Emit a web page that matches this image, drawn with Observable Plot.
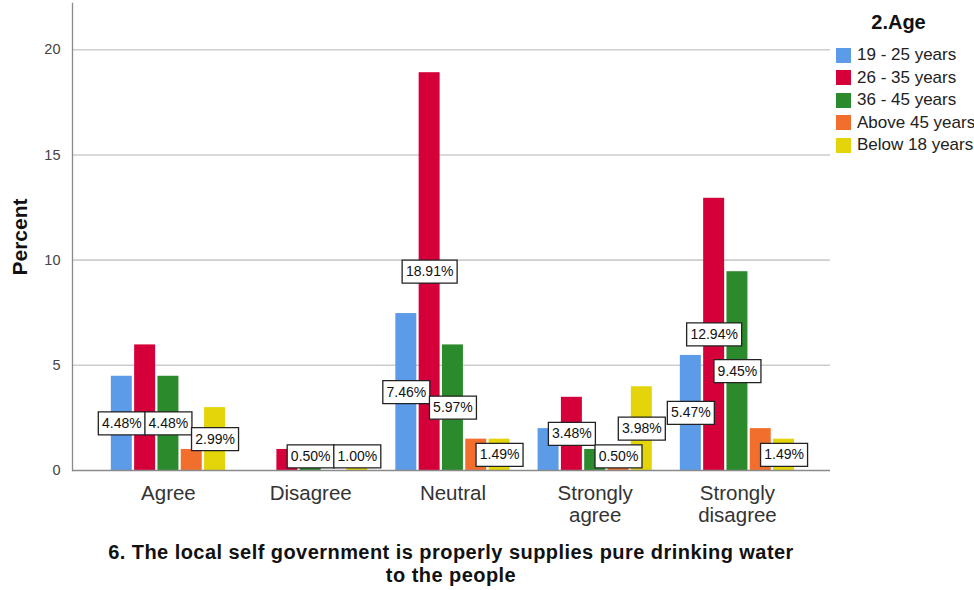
<!DOCTYPE html>
<html><head><meta charset="utf-8">
<script src="https://cdn.jsdelivr.net/npm/d3@7"></script>
<script src="https://cdn.jsdelivr.net/npm/@observablehq/plot@0.6"></script>
<style>
body{margin:0;background:#fff;font-family:Arial,"Liberation Sans",sans-serif}
#wrap{position:relative;width:974px;height:590px;overflow:hidden;background:#fff}
#chart{position:absolute;left:0;top:0}
#legend{position:absolute;left:836px;top:9px;width:125px;color:#222}
#legend .lt{font-weight:bold;font-size:20px;text-align:center;height:35px;line-height:26px;color:#111}
#legend .it{display:flex;align-items:center;height:22.5px;font-size:17px;white-space:nowrap}
#legend .sw{width:15px;height:15px;margin-right:6px;flex:none}
#caption{position:absolute;left:52px;width:798px;top:541px;text-align:center;font-weight:bold;font-size:20px;letter-spacing:0.45px;line-height:23px;color:#111}
</style></head><body>
<div id="wrap"><div id="chart"></div><div id="legend"></div>
<div id="caption">6. The local self government is properly supplies pure drinking water<br>to the people</div></div>
<script>
const categories = ["Agree", "Disagree", "Neutral", "Strongly agree", "Strongly disagree"];
const series = ["19 - 25 years", "26 - 35 years", "36 - 45 years", "Above 45 years", "Below 18 years"];
const colors = ["#5b9be8", "#d5003a", "#2b8a2b", "#f26e2c", "#e3d50a"];
// percent values per series, in category order
const v19to25 = [4.48, 0, 7.46, 1.99, 5.47];
const v26to35 = [5.97, 1.00, 18.91, 3.48, 12.94];
const v36to45 = [4.48, 0.50, 5.97, 1.00, 9.45];
const vAbove45 = [1.00, 0, 1.49, 0.50, 1.99];
const vBelow18 = [2.99, 1.00, 1.49, 3.98, 1.49];
// which value labels are visible in the reference (1 = shown)
const lab19to25 = [1, 0, 1, 0, 1];
const lab26to35 = [0, 0, 1, 1, 1];
const lab36to45 = [1, 1, 1, 0, 1];
const labAbove45 = [0, 0, 0, 1, 0];
const labBelow18 = [1, 1, 1, 1, 1];
const yTicks = [0, 5, 10, 15, 20];

const seriesValues = [v19to25, v26to35, v36to45, vAbove45, vBelow18];
const seriesLabels = [lab19to25, lab26to35, lab36to45, labAbove45, labBelow18];
const rows = [];
categories.forEach((c, i) => series.forEach((s, j) => rows.push({category: c, series: s, si: j, value: seriesValues[j][i], show: seriesLabels[j][i]})));
const fmt = d => d.value.toFixed(2) + "%";
const boxSymbol = (w, h) => ({draw(ctx) {ctx.moveTo(-w/2, -h/2); ctx.lineTo(w/2, -h/2); ctx.lineTo(w/2, h/2); ctx.lineTo(-w/2, h/2); ctx.closePath();}});
const labelY = d => Math.max(d.value / 2, 0.67);

// layout of the grouped bars inside each category band
const W = 974, ML = 72, MR = 144;
const PI = 0.1775, PO = 0.253, ALIGN = 0.52;
const step = (W - ML - MR) / (categories.length - PI + 2 * PO);
const bw = step * (1 - PI);
const sub = bw / (series.length - 0.1 + 0.12);
const barW = sub * 0.9, off0 = sub * 0.06;

const marks = [
  Plot.ruleY(yTicks.filter(t => t > 0), {stroke: "#cdcdcd", strokeWidth: 1.6})
];
series.forEach((s, j) => {
  const left = off0 + j * sub;
  marks.push(Plot.barY(rows.filter(d => d.si === j), {x: "category", y: "value", fill: "series", insetLeft: left, insetRight: bw - left - barW}));
});
series.forEach((s, j) => {
  const dx = off0 + j * sub + barW / 2 - bw / 2;
  const lr = rows.filter(d => d.si === j && d.show);
  marks.push(Plot.dot(lr.filter(d => fmt(d).length <= 5), {x: "category", y: labelY, dx, symbol: boxSymbol(47, 23), fill: "white", stroke: "#222", strokeWidth: 1.3}));
  marks.push(Plot.dot(lr.filter(d => fmt(d).length > 5), {x: "category", y: labelY, dx, symbol: boxSymbol(55, 23), fill: "white", stroke: "#222", strokeWidth: 1.3}));
  marks.push(Plot.text(lr, {x: "category", y: labelY, dx, text: fmt, fontSize: 14, fill: "#111"}));
});
marks.push(
  Plot.ruleY([0], {stroke: "#8a8a8a", strokeWidth: 1.3}),
  Plot.frame({anchor: "left", stroke: "#8a8a8a", strokeWidth: 1.3}),
  Plot.axisY({ticks: yTicks, tickSize: 0, tickPadding: 12, fontSize: 14.5, fill: "#444", label: null}),
  Plot.text(["Percent"], {frameAnchor: "left", textAnchor: "middle", rotate: -90, dx: -52, fontWeight: "bold", fontSize: 21, fill: "#111"}),
  Plot.axisX({tickSize: 0, tickPadding: 14, fontSize: 20.5, lineHeight: 1.08, fill: "#333", label: null, tickFormat: d => d.replace(" ", "\n")})
);

const chart = Plot.plot({
  width: W, height: 540,
  marginLeft: ML, marginRight: MR, marginTop: 3, marginBottom: 70,
  style: {fontFamily: "Arial, 'Liberation Sans', sans-serif", background: "white", overflow: "visible"},
  x: {domain: categories, paddingInner: PI, paddingOuter: PO, align: ALIGN, round: false, axis: null},
  y: {domain: [0, 22.2], axis: null},
  color: {domain: series, range: colors},
  marks
});
document.getElementById("chart").appendChild(chart);

const legend = document.getElementById("legend");
legend.innerHTML = '<div class="lt">2.Age</div>' + series.map((s, i) => `<div class="it"><div class="sw" style="background:${colors[i]}"></div>${s}</div>`).join("");
</script>
</body></html>
